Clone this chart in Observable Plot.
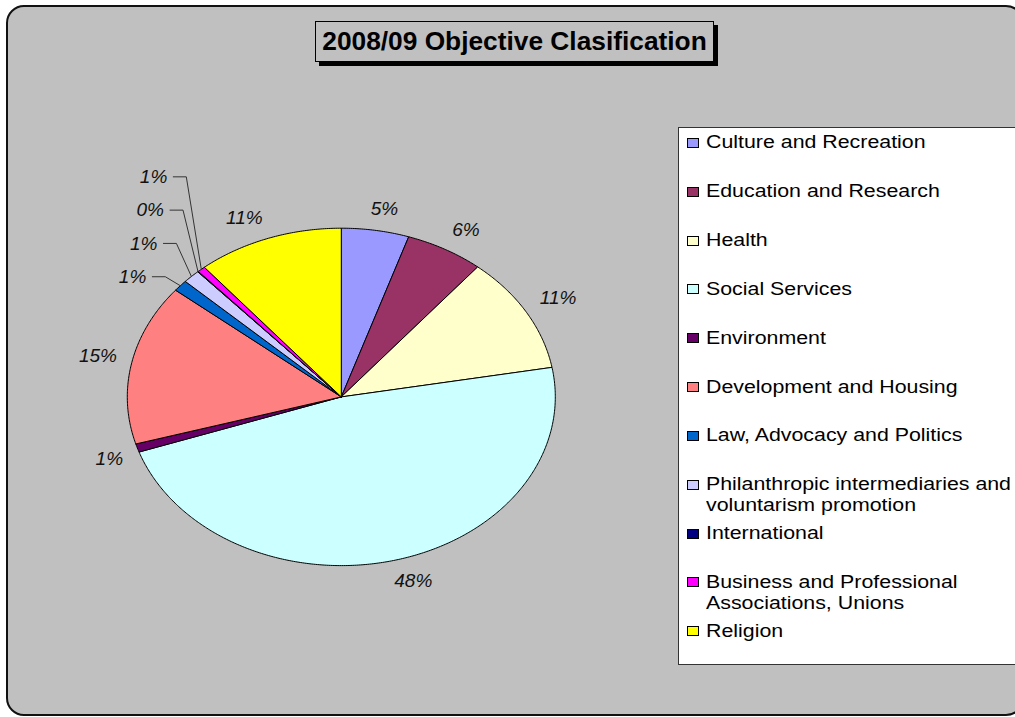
<!DOCTYPE html>
<html>
<head>
<meta charset="utf-8">
<script src="https://cdn.jsdelivr.net/npm/d3@7"></script>
<script src="https://cdn.jsdelivr.net/npm/@observablehq/plot@0.6"></script>
<style>
  html, body { margin: 0; padding: 0; background: #fff; width: 1015px; height: 717px; overflow: hidden; }
  body { position: relative; font-family: "Liberation Sans", Arial, sans-serif; }
  #frame { position: absolute; left: 6px; top: 5px; width: 1018px; height: 711px; box-sizing: border-box;
           border: 2px solid #111; border-radius: 18px; background: #c0c0c0; }
  #title { position: absolute; left: 315px; top: 21px; width: 399px; height: 41px; box-sizing: border-box;
           border: 1.5px solid #000; background: #c0c0c0; box-shadow: 4px 4px 0 #000;
           display: flex; align-items: center; justify-content: center;
           font-weight: bold; font-size: 26.3px; color: #000; white-space: nowrap; }
  #legend { position: absolute; left: 678px; top: 127px; width: 360px; height: 538px; box-sizing: border-box;
            border: 1.5px solid #333; background: #fff; }
  .sw { position: absolute; width: 12px; height: 10px; box-sizing: border-box; border: 1px solid #000; }
  .lt { position: absolute; width: 270px; font-size: 17.5px; line-height: 21px; color: #000;
        transform: scaleX(1.22); transform-origin: 0 0; }
  #chart { position: absolute; left: 0; top: 0; pointer-events: none; }
</style>
</head>
<body>
<div id="frame"></div>
<div id="legend"></div>
<div id="title">2008/09 Objective Clasification</div>
<div id="chart"></div>
<script>
// ---- data ----
const categories = [
  "Culture and Recreation",
  "Education and Research",
  "Health",
  "Social Services",
  "Environment",
  "Development and Housing",
  "Law, Advocacy and Politics",
  "Philanthropic intermediaries and voluntarism promotion",
  "International",
  "Business and Professional Associations, Unions",
  "Religion"
];
const values = [5.1, 5.9, 11.2, 47.5, 0.8, 15.4, 1.1, 1.3, 0.05, 0.6, 11.05];
const colors = ["#9999FF", "#993366", "#FFFFCC", "#CCFFFF", "#660066", "#FF8080",
                "#0066CC", "#CCCCFF", "#000080", "#FF00FF", "#FFFF00"];

// ---- layout ----
const W = 1015, H = 717;
const cx = 340.8, cy = 396.4, rx = 214, ry = 168.7;
const fontSize = 19;

const total = d3.sum(values);
const pct = values.map(v => Math.round(v / total * 100) + "%");
const arcs = d3.pie().sort(null).value(d => d)(values);

// slice polygons
const slicePts = [];
arcs.forEach((a, i) => {
  const cat = categories[i];
  const n = Math.max(2, Math.ceil((a.endAngle - a.startAngle) / (Math.PI / 360)));
  slicePts.push({category: cat, x: 0, y: 0});
  for (let k = 0; k <= n; k++) {
    const t = a.startAngle + (a.endAngle - a.startAngle) * k / n;
    slicePts.push({category: cat, x: Math.sin(t), y: Math.cos(t)});
  }
  slicePts.push({category: cat, x: 0, y: 0});
});

// labels
const toDX = px => (px - cx) / rx;
const toDY = py => (cy - py) / ry;
const clamp = v => Math.max(-1, Math.min(1, v));
const small = values.map(v => v / total < 0.02);
const inCluster = small.map((s, i) => s && ((i > 0 && small[i - 1]) || (i < small.length - 1 && small[i + 1])));

const plainLabels = [], clusterLabels = [], leaders = [];
let clusterIdx = 0, clusterBaseY = null;
arcs.forEach((a, i) => {
  const m = (a.startAngle + a.endAngle) / 2;
  const s = Math.sin(m), c = Math.cos(m);
  const rimX = cx + rx * s, rimY = cy - ry * c;
  const text = pct[i];
  if (!inCluster[i]) {
    const w = fontSize * (0.556 * (text.length - 1) + 0.889);
    const h = 13, d = 15;
    const px = rimX + d * s + clamp(3 * s) * w / 2;
    const py = rimY - d * c - clamp(3 * c) * h / 2;
    plainLabels.push({x: toDX(px), y: toDY(py), text});
  } else {
    if (clusterBaseY === null) clusterBaseY = rimY - 9;
    const ly = clusterBaseY - 33.3 * clusterIdx;
    const kneeX = rimX - 15;
    const startX = kneeX - 13;
    leaders.push({id: i, x: toDX(startX), y: toDY(ly)});
    leaders.push({id: i, x: toDX(kneeX), y: toDY(ly)});
    leaders.push({id: i, x: s, y: c});
    clusterLabels.push({x: toDX(startX - 6), y: toDY(ly), text});
    clusterIdx++;
  }
});

const textOpts = {x: "x", y: "y", text: "text", fontSize, fontStyle: "italic",
                  fontFamily: "Liberation Sans, Arial, sans-serif", fill: "#111", lineAnchor: "middle"};

const chart = Plot.plot({
  width: W, height: H, margin: 0,
  x: {domain: [-1, 1], range: [cx - rx, cx + rx], axis: null},
  y: {domain: [-1, 1], range: [cy + ry, cy - ry], axis: null},
  color: {domain: categories, range: colors},
  style: {background: "transparent", overflow: "visible"},
  marks: [
    Plot.line(slicePts, {x: "x", y: "y", z: "category", fill: "category", stroke: "#000",
                         strokeWidth: 1, strokeLinejoin: "round", curve: "linear"}),
    Plot.line(leaders, {x: "x", y: "y", z: "id", stroke: "#333", strokeWidth: 1, curve: "linear"}),
    Plot.text(plainLabels, {...textOpts, textAnchor: "middle"}),
    Plot.text(clusterLabels, {...textOpts, textAnchor: "end"})
  ]
});
document.getElementById("chart").appendChild(chart);

// ---- legend (HTML) ----
const legend = document.getElementById("legend");
const legLeft = 678, legTop = 127;
categories.forEach((cat, i) => {
  const yc = 143.3 + 48.85 * i;
  const sw = document.createElement("div");
  sw.className = "sw";
  sw.style.left = (687 - legLeft - 1.5) + "px";
  sw.style.top = (yc - 5 - legTop - 1.5) + "px";
  sw.style.background = colors[i];
  legend.appendChild(sw);
  const t = document.createElement("div");
  t.className = "lt";
  t.style.left = (706.5 - legLeft - 1.5) + "px";
  t.style.top = (yc - 10.5 - legTop - 1.5) + "px";
  t.textContent = cat;
  legend.appendChild(t);
});
</script>
</body>
</html>
